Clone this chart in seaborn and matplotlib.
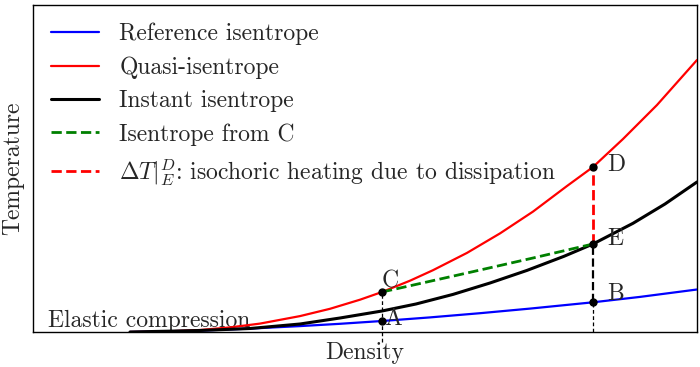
import numpy as np
import pandas as pd
import seaborn as sns
import matplotlib
matplotlib.use("Agg")
import matplotlib.pyplot as plt

# ---- data (arbitrary units) ----
ref_x = [0.97, 1.67, 2.17, 2.67, 3.07, 3.49, 3.97, 4.47, 4.97, 5.60, 6.07, 6.64]
ref_y = [0.000, 0.014, 0.034, 0.059, 0.082, 0.110, 0.146, 0.188, 0.234, 0.297, 0.351, 0.425]

quasi_x = [0.97, 1.27, 1.67, 1.97, 2.27, 2.67, 2.97, 3.27, 3.49, 3.77, 4.00,
           4.34, 4.67, 5.00, 5.34, 5.60, 5.90, 6.24, 6.64]
quasi_y = [0.000, 0.003, 0.020, 0.046, 0.084, 0.159, 0.232, 0.323, 0.400, 0.513, 0.618,
           0.791, 0.986, 1.204, 1.460, 1.650, 1.930, 2.270, 2.720]

inst_x = [0.97, 1.67, 2.17, 2.67, 3.07, 3.49, 3.83, 4.20, 4.57, 4.94, 5.31, 5.60, 6.00, 6.32, 6.64]
inst_y = [0.000, 0.015, 0.035, 0.080, 0.140, 0.210, 0.280, 0.376, 0.490, 0.616, 0.757, 0.880,
          1.087, 1.280, 1.500]

fromC_x = [3.49, 3.67, 4.34, 5.00, 5.60]
fromC_y = [0.400, 0.440, 0.590, 0.740, 0.880]

pt_names = ["A", "B", "C", "D", "E"]
pt_x = [3.49, 5.60, 3.49, 5.60, 5.60]
pt_y = [0.110, 0.297, 0.400, 1.650, 0.880]

labels = ["Reference isentrope", "Quasi-isentrope", "Instant isentrope",
          "Isentrope from C", r"$\Delta T|_E^D$: isochoric heating due to dissipation"]

sns.set_theme(style="white")
plt.rcParams["font.family"] = ["cmr10", "DejaVu Serif"]
plt.rcParams["mathtext.fontset"] = "cm"
plt.rcParams["axes.unicode_minus"] = False
plt.rcParams["axes.formatter.use_mathtext"] = True

FS = 17

fig = plt.figure(figsize=(7.0, 3.67), dpi=100)
ax = fig.add_axes([33/700, 1-332/367, (697-33)/700, (332-5)/367])

P = dict(zip(pt_names, zip(pt_x, pt_y)))

# vertical guide lines
ax.plot([P["C"][0], P["C"][0]], [-0.1, P["C"][1]], color="black", ls="--", lw=0.9,
        dashes=(3, 2), clip_on=False, zorder=2)
ax.plot([P["B"][0], P["B"][0]], [0, P["B"][1]], color="black", ls="--", lw=0.9,
        dashes=(3, 2), zorder=2)

sns.lineplot(x=ref_x, y=ref_y, ax=ax, color="#0000ff", lw=1.6, label=labels[0], zorder=3)
sns.lineplot(x=quasi_x, y=quasi_y, ax=ax, color="#ff0000", lw=1.6, label=labels[1], zorder=3)
sns.lineplot(x=inst_x, y=inst_y, ax=ax, color="black", lw=2.2, label=labels[2], zorder=3)
sns.lineplot(x=fromC_x, y=fromC_y, ax=ax, color="green", lw=2.0, ls="--", label=labels[3], zorder=4)
ax.plot([P["E"][0], P["D"][0]], [P["E"][1], P["D"][1]], color="#ff0000", lw=2.0, ls="--",
        label=labels[4], zorder=4)
ax.plot([P["B"][0], P["E"][0]], [P["B"][1], P["E"][1]], color="black", lw=1.6, ls="--", zorder=4)

ax.scatter(pt_x, pt_y, s=25, color="black", zorder=6)
offs = {"A": (0.02, -0.04), "C": (0.0, 0.04), "B": (0.14, 0.023), "D": (0.14, -0.04), "E": (0.14, -0.01)}
for n in pt_names:
    x, y = P[n]
    ax.text(x + offs[n][0], y + offs[n][1], n, fontsize=FS, va="baseline", ha="left", zorder=7)

ax.text(0.15, 0.05, "Elastic compression", fontsize=FS, va="baseline", ha="left", zorder=1)

ax.set_xlim(0, 6.64)
ax.set_ylim(0, 3.27)
ax.set_xticks([])
ax.set_yticks([])
ax.set_xlabel("Density", fontsize=FS, labelpad=7)
ax.set_ylabel("Temperature", fontsize=FS, labelpad=6)
for s in ax.spines.values():
    s.set_color("black")
    s.set_linewidth(1.0)

leg = ax.legend(loc="upper left", frameon=False, fontsize=FS, handlelength=2.05,
                handletextpad=0.85, labelspacing=0.47, borderaxespad=0.35,
                bbox_to_anchor=(0.0, 1.0))

fig.savefig("out.png", dpi=100)
